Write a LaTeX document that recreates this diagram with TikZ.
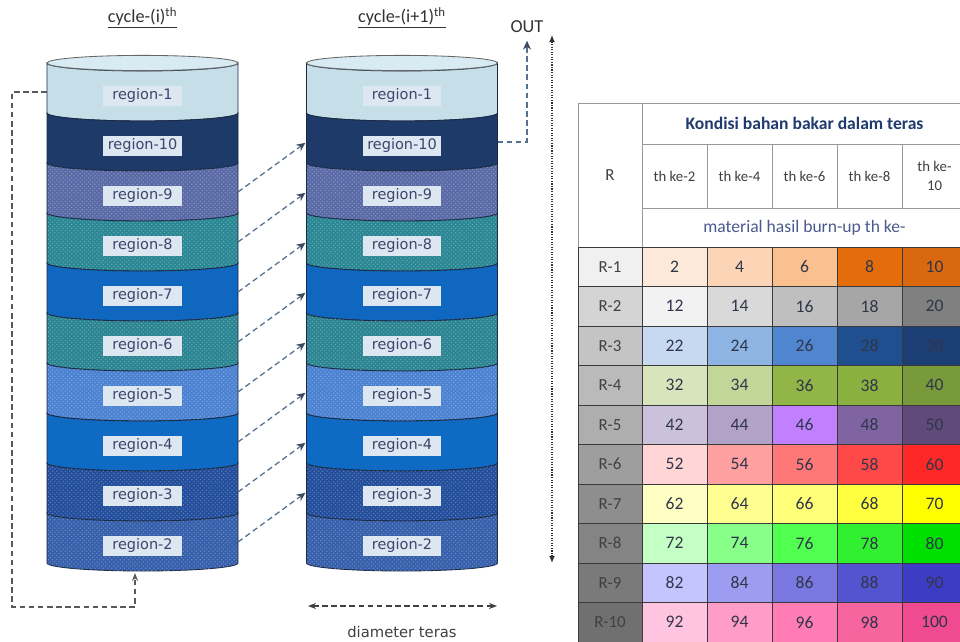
\documentclass[tikz,border=0pt]{standalone}
\usepackage{fontspec}
\setmainfont{Carlito}
\newfontfamily\regfont{DejaVu Sans}
\usetikzlibrary{arrows.meta,patterns}

\definecolor{regtext}{HTML}{3A456C}
\definecolor{regbox}{HTML}{DCE7F1}
\definecolor{rimline}{HTML}{1B2A44}
\definecolor{rimtop}{HTML}{D8EAF2}
\definecolor{linkblue}{HTML}{56708F}
\definecolor{tabline}{HTML}{3A3A3A}
\definecolor{hdrblue}{HTML}{1F3A6E}
\definecolor{subblue}{HTML}{4A5A8C}
\definecolor{celltext}{HTML}{30364A}
\definecolor{reg1}{HTML}{C6DEE8}
\definecolor{reg10}{HTML}{1D3A68}
\definecolor{reg9}{HTML}{5A6AA6}
\definecolor{reg8}{HTML}{2A8794}
\definecolor{reg7}{HTML}{0F67C0}
\definecolor{reg6}{HTML}{2C8592}
\definecolor{reg5}{HTML}{4C82D2}
\definecolor{reg4}{HTML}{0E6AC2}
\definecolor{reg3}{HTML}{234E9C}
\definecolor{reg2}{HTML}{3760AC}

\begin{document}
\begin{tikzpicture}[x=0.025cm, y=0.025cm, >={Stealth[length=2mm]},
  layer/.style={draw=rimline, line width=0.6pt},
  dotty/.style={postaction={pattern=crosshatch dots, pattern color=white, opacity=0.3}},
  flat/.style={},
  lbl/.style={fill=regbox, text=regtext, inner sep=1pt, minimum width=1.95cm, minimum height=0.48cm, font=\regfont\fontsize{10.3}{12}\selectfont},
  link/.style={->, draw=linkblue, line width=0.9pt, dash pattern=on 4pt off 2.5pt, >={Stealth[length=2.2mm, width=2mm, color=rimline!85]}},
  loopline/.style={->, draw=black!65, line width=0.9pt, dash pattern=on 4pt off 2.5pt},
  ttl/.style={text=black!80, font=\fontsize{13}{15}\selectfont},
  hdr/.style={draw=gray!80, line width=0.5pt, inner sep=1pt, align=center},
  cell/.style={draw=tabline, line width=0.5pt, minimum width=1.625cm, minimum height=0.9875cm, inner sep=0pt, text=celltext, font=\fontsize{12.5}{14}\selectfont},
  rlab/.style={cell, minimum width=1.6cm, text=black!75, font=\fontsize{12}{14}\selectfont}]
\fill[white] (0,0) rectangle (960,-642);
\useasboundingbox (0,0) rectangle (960,-642);

\foreach \cx/\cy in {142.5/L, 402/R} {
  \foreach \i/\reg/\col/\tex in {1/1/reg1/flat, 2/10/reg10/flat, 3/9/reg9/dotty, 4/8/reg8/dotty, 5/7/reg7/flat, 6/6/reg6/dotty, 7/5/reg5/dotty, 8/4/reg4/flat, 9/3/reg3/dotty, 10/2/reg2/dotty} {
    \path[layer, fill=\col, \tex] ({\cx-95.5},{-63-50*(\i-1)}) -- ({\cx-95.5},{-63-50*\i})
      arc[start angle=180, end angle=360, x radius=2.3875cm, y radius=0.2cm] -- ({\cx+95.5},{-63-50*(\i-1)})
      arc[start angle=0, end angle=-180, x radius=2.3875cm, y radius=0.2cm] -- cycle;
    \node[lbl] (\cy-\reg) at (\cx,{-96-50*(\i-1)}) {region-\reg};
    \coordinate (\cy e\i) at ({\cx+95.5},{-92-50*(\i-1)});
    \coordinate (\cy w\i) at ({\cx-95.5},{-92-50*(\i-1)});
  }
  \filldraw[fill=rimtop, draw=gray!80!black, line width=0.6pt] (\cx,-63) ellipse[x radius=2.3875cm, y radius=0.19cm];
}

\node[ttl] (cyc1) at (142.5,-18) {\underline{cycle-(i)\textsuperscript{th}}};
\node[ttl] (cyc2) at (402,-18) {\underline{cycle-(i+1)\textsuperscript{th}}};
\node[ttl] (out) at (527,-27) {OUT};

\foreach \i in {3,...,10} {
  \pgfmathtruncatemacro\j{\i-1}
  \draw[link, shorten >=1pt] (Le\i) -- (Rw\j);
}
\coordinate (Lbot) at (135,-573);
\draw[loopline] (Lw1) -- ++(-35,0) -- ++(0,-515) -| (Lbot);
\draw[link, shorten >=2pt] (Re2) -| (out.south);

\coordinate (htop) at (552,-35);
\coordinate (hbot) at (552,-563);
\draw[<->, densely dotted, line width=0.8pt, black!80, >={Latex[length=1.8mm, width=1.5mm]}] (htop) -- (hbot);
\coordinate (dl) at (308,-606);
\coordinate (dr) at (497,-606);
\draw[<->, black!75, line width=0.9pt, dash pattern=on 4pt off 2.5pt, >={Stealth[length=2mm]}] (dl) -- (dr);
\node[text=black!75, font=\regfont\fontsize{10.5}{12}\selectfont] (diam) at (402,-632) {diameter teras};

\begin{scope}
\clip (0,0) rectangle (960,-642);
\node[hdr, minimum width=1.6cm, minimum height=3.6cm, font=\fontsize{12}{14}\selectfont, text=black!75] (rhead) at (610,-175) {R};
\node[hdr, minimum width=8.125cm, minimum height=1.025cm, font=\bfseries\fontsize{12.5}{14}\selectfont, text=hdrblue] (kond) at (804.5,-123.5) {Kondisi bahan bakar dalam teras};
\foreach \c/\t in {1/th ke-2, 2/th ke-4, 3/th ke-6, 4/th ke-8, 5/th ke-\\10}
  \node[hdr, minimum width=1.625cm, minimum height=1.6cm, font=\fontsize{10.5}{13}\selectfont, text=black!75] (th\c) at ({674.5+65*(\c-1)},-176) {\t};
\node[hdr, minimum width=8.125cm, minimum height=0.975cm, font=\fontsize{12.5}{14}\selectfont, text=subblue] (mat) at (804.5,-227.5) {material hasil burn-up th ke-};

\foreach \r/\rc/\ca/\cb/\cc/\cd/\ce in {
  1/F0F0F0/FDE9D9/FBD5B5/FAC090/E46C0A/D9680E,
  2/D4D4D4/F2F2F2/D9D9D9/BFBFBF/A6A6A6/808080,
  3/C4C4C4/C6D9F1/8DB4E2/4F86CF/1F4F8F/1C3F75,
  4/BABABA/D8E4BC/C2D69A/92B548/8AB040/789A3A,
  5/AEAEAE/CCC1DA/B3A2C7/C080FF/8064A2/604A7B,
  6/9E9E9E/FFD5D5/FFA0A0/FF7878/FF4848/FF2828,
  7/8E8E8E/FFFFC4/FFFF90/FFFF78/FFFF40/FFFF00,
  8/848484/C4FFC4/88FF88/50FF50/30F030/00E000,
  9/7A7A7A/C4C4FF/9C9CF0/7878E0/5454D0/3C3CC4,
  10/707070/FFC4E0/FF9CC8/FF7CB4/F8649E/F04A90} {
  \definecolor{rowc}{HTML}{\rc}
  \node[rlab, fill=rowc] (R\r) at (610,{-266.75-39.5*(\r-1)}) {R-\r};
  \foreach \c/\hx in {1/\ca, 2/\cb, 3/\cc, 4/\cd, 5/\ce} {
    \definecolor{cellc}{HTML}{\hx}
    \pgfmathtruncatemacro\v{10*(\r-1)+2*\c}
    \node[cell, fill=cellc] (c\r-\c) at ({674.5+65*(\c-1)},{-266.75-39.5*(\r-1)}) {\v};
  }
}
\end{scope}
\end{tikzpicture}
\end{document}
